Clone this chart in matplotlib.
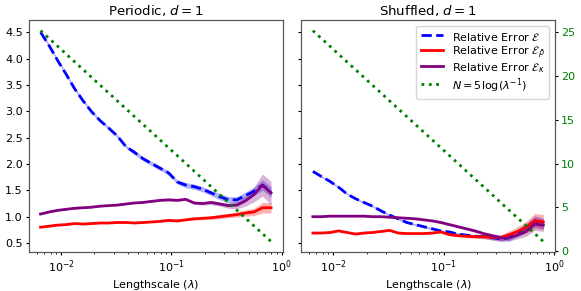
import numpy as np
import matplotlib
matplotlib.use("Agg")
from matplotlib import pyplot as plt

# lengthscale grid
lam = [0.0065, 0.0078, 0.0093, 0.0111, 0.0133, 0.0159, 0.0189, 0.0226, 0.0270,
       0.0323, 0.0386, 0.0462, 0.0552, 0.0659, 0.0788, 0.0942, 0.1126, 0.1345,
       0.1607, 0.1921, 0.2296, 0.2744, 0.3280, 0.3919, 0.4684, 0.5598, 0.6689, 0.8]

# N = 5 log(1/lambda)
n_pts = [25.18, 24.27, 23.39, 22.50, 21.60, 20.71, 19.84, 18.95, 18.06, 17.16,
         16.27, 15.37, 14.48, 13.60, 12.70, 11.81, 10.92, 10.03, 9.14, 8.25,
         7.36, 6.47, 5.57, 4.68, 3.79, 2.90, 2.01, 1.12]

# Periodic
per_err = [4.50, 4.24, 3.96, 3.70, 3.42, 3.19, 2.99, 2.82, 2.68, 2.53, 2.33, 2.22,
           2.10, 2.01, 1.92, 1.83, 1.66, 1.60, 1.57, 1.52, 1.45, 1.38, 1.32, 1.32,
           1.40, 1.48, 1.60, 1.47]
per_err_sd = [0.03, 0.03, 0.03, 0.03, 0.03, 0.03, 0.03, 0.03, 0.03, 0.03, 0.03, 0.04,
              0.04, 0.04, 0.04, 0.04, 0.04, 0.05, 0.05, 0.05, 0.05, 0.06, 0.06, 0.06,
              0.07, 0.08, 0.10, 0.10]
per_rho = [0.80, 0.82, 0.84, 0.85, 0.87, 0.86, 0.87, 0.88, 0.88, 0.89, 0.89, 0.88,
           0.89, 0.90, 0.91, 0.93, 0.92, 0.94, 0.96, 0.97, 0.98, 1.00, 1.02, 1.04,
           1.07, 1.09, 1.17, 1.17]
per_rho_sd = [0.01, 0.01, 0.01, 0.01, 0.01, 0.01, 0.01, 0.01, 0.01, 0.01, 0.01, 0.01,
              0.01, 0.01, 0.01, 0.02, 0.02, 0.02, 0.02, 0.03, 0.03, 0.04, 0.04, 0.05,
              0.06, 0.07, 0.10, 0.10]
per_kap = [1.05, 1.09, 1.12, 1.14, 1.16, 1.17, 1.18, 1.20, 1.21, 1.22, 1.24, 1.26,
           1.27, 1.29, 1.31, 1.32, 1.31, 1.33, 1.26, 1.25, 1.27, 1.24, 1.21, 1.22,
           1.30, 1.42, 1.60, 1.45]
per_kap_sd = [0.01, 0.01, 0.01, 0.01, 0.01, 0.01, 0.01, 0.01, 0.01, 0.01, 0.01, 0.01,
              0.01, 0.01, 0.02, 0.02, 0.02, 0.02, 0.03, 0.03, 0.04, 0.04, 0.05, 0.07,
              0.10, 0.14, 0.21, 0.22]

# Shuffled
shu_err = [1.86, 1.76, 1.67, 1.56, 1.43, 1.34, 1.27, 1.20, 1.11, 1.03, 0.96, 0.89,
           0.85, 0.81, 0.77, 0.73, 0.71, 0.67, 0.65, 0.63, 0.62, 0.60, 0.58, 0.60,
           0.70, 0.80, 0.92, 0.87]
shu_err_sd = [0.02, 0.02, 0.02, 0.02, 0.02, 0.02, 0.02, 0.02, 0.02, 0.02, 0.02, 0.02,
              0.02, 0.02, 0.02, 0.02, 0.02, 0.03, 0.03, 0.03, 0.03, 0.04, 0.05, 0.06,
              0.07, 0.08, 0.10, 0.10]
shu_rho = [0.69, 0.69, 0.70, 0.73, 0.70, 0.67, 0.69, 0.70, 0.72, 0.74, 0.69, 0.68,
           0.68, 0.68, 0.69, 0.71, 0.66, 0.64, 0.63, 0.62, 0.62, 0.61, 0.60, 0.66,
           0.72, 0.80, 0.92, 0.90]
shu_rho_sd = [0.01, 0.01, 0.01, 0.01, 0.01, 0.01, 0.01, 0.01, 0.01, 0.01, 0.01, 0.01,
              0.01, 0.01, 0.01, 0.02, 0.02, 0.02, 0.03, 0.03, 0.04, 0.05, 0.06, 0.07,
              0.09, 0.11, 0.14, 0.14]
shu_kap = [1.00, 1.00, 1.01, 1.01, 1.01, 1.01, 1.01, 1.00, 1.00, 0.99, 0.98, 0.97,
           0.96, 0.94, 0.92, 0.89, 0.85, 0.81, 0.77, 0.73, 0.68, 0.64, 0.60, 0.60,
           0.65, 0.72, 0.86, 0.84]
shu_kap_sd = [0.01, 0.01, 0.01, 0.01, 0.01, 0.01, 0.01, 0.01, 0.01, 0.01, 0.01, 0.01,
              0.01, 0.01, 0.01, 0.02, 0.02, 0.02, 0.02, 0.03, 0.03, 0.04, 0.05, 0.06,
              0.07, 0.09, 0.12, 0.12]

# smaller ticks / pads, the original looks like a scaled-down figure
plt.rcParams.update({
    'font.size': 8,
    'xtick.major.size': 2.5, 'ytick.major.size': 2.5,
    'xtick.minor.size': 1.5, 'ytick.minor.size': 1.5,
    'xtick.major.pad': 2, 'ytick.major.pad': 2,
    'xtick.minor.pad': 2, 'ytick.minor.pad': 2,
    'axes.labelpad': 2, 'axes.titlepad': 3.5,
    'axes.edgecolor': '#555555',
})

fig, axes = plt.subplots(1, 2, figsize=(5.81, 2.91), dpi=100, sharey=True)
fig.subplots_adjust(left=0.05, right=0.955, bottom=0.134, top=0.931, wspace=0.074)


def draw_panel(ax, err, err_sd, rho, rho_sd, kap, kap_sd, title):
    x = np.array(lam)
    for y, sd, col, ls, lab in [
            (err, err_sd, 'blue', '--', r'Relative Error $\mathcal{E}$'),
            (rho, rho_sd, 'red', '-', r'Relative Error $\mathcal{E}_{\bar{\rho}}$'),
            (kap, kap_sd, 'purple', '-', r'Relative Error $\mathcal{E}_{\kappa}$')]:
        y = np.array(y)
        sd = np.array(sd)
        ax.fill_between(x, y - sd, y + sd, color=col, alpha=0.3, lw=0)
        ax.plot(x, y, color=col, ls=ls, lw=2, label=lab)
    ax.set_xscale('log')
    ax.set_xlabel(r'Lengthscale ($\lambda$)')
    ax.set_title(title)
    tw = ax.twinx()
    tw.plot(x, n_pts, color='green', ls=':', lw=2, label=r'$N = 5\log(\lambda^{-1})$')
    return tw


tw1 = draw_panel(axes[0], per_err, per_err_sd, per_rho, per_rho_sd, per_kap, per_kap_sd,
                 r'Periodic, $d = 1$')
tw2 = draw_panel(axes[1], shu_err, shu_err_sd, shu_rho, shu_rho_sd, shu_kap, shu_kap_sd,
                 r'Shuffled, $d = 1$')

tw1.tick_params(right=False, labelright=False)
tw2.set_ylim(tw1.get_ylim())
tw2.tick_params(axis='y', labelcolor='green')
tw2.spines['right'].set_color('#555555')
tw2.set_yticks([0, 5, 10, 15, 20, 25])

h1, l1 = axes[1].get_legend_handles_labels()
h2, l2 = tw2.get_legend_handles_labels()
tw2.legend(h1 + h2, l1 + l2, loc='upper right', fontsize=8,
           handleheight=1.5, labelspacing=0.05)

plt.savefig('out.png')
